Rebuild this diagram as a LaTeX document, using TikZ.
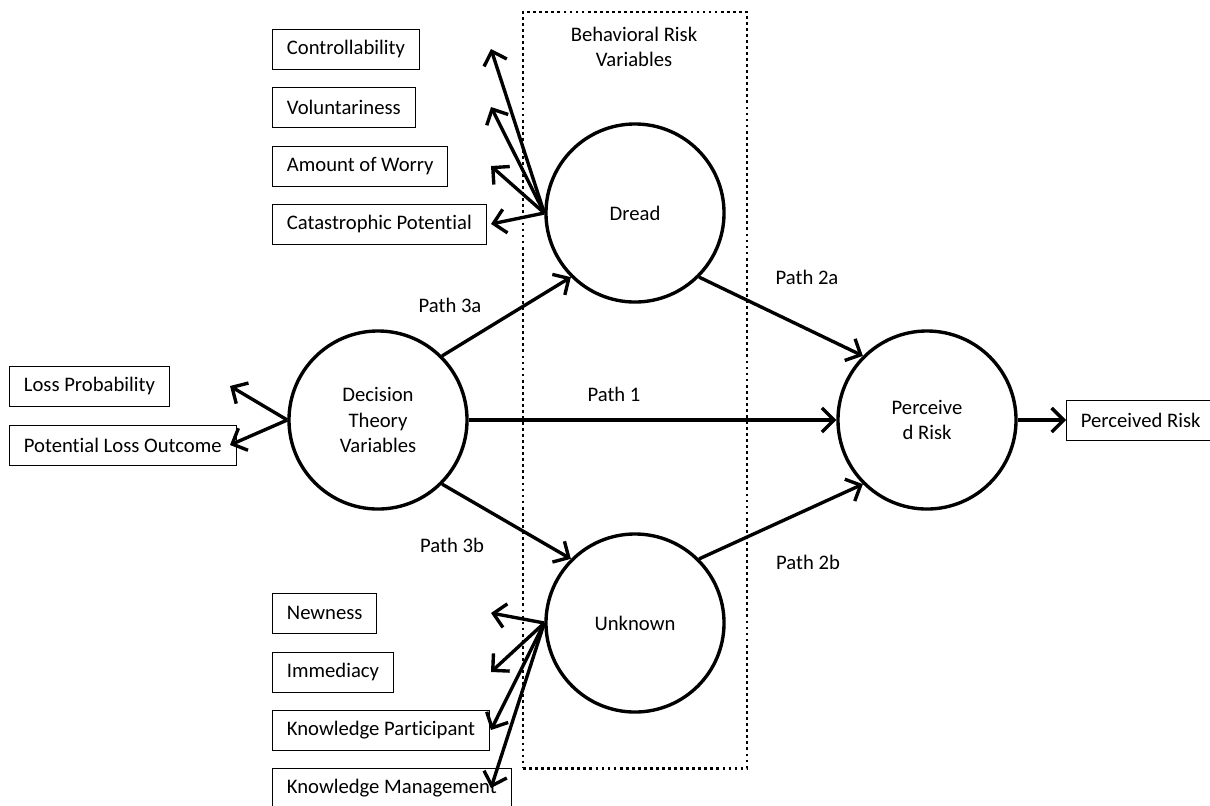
\documentclass[tikz,border=0pt]{standalone}
\usepackage{fontspec}
\setmainfont{Carlito}[Ligatures=CommonOff]
\usetikzlibrary{shapes,arrows.meta,positioning,calc}

\begin{document}
\begin{tikzpicture}[x=0.025cm, y=-0.025cm, font=\fontsize{14.7}{18}\selectfont,
		>={Straight Barb[length=3mm, width=6mm]},
		var/.style={circle, draw, line width=2.4pt, minimum size=4.45cm, align=center},
		item/.style={rectangle, draw, line width=0.7pt, minimum height=1cm, inner xsep=0.36cm, anchor=west},
		link/.style={->, line width=2.4pt}]
				\useasboundingbox (0,0) rectangle (1210,805);
				% Group
				\node[draw, line width=2pt, dash pattern=on 2pt off 2.3pt, minimum width=5.6cm, minimum height=18.9cm] (brv) at (635,390) {};
				\node[align=center] (brvlab) at (634,47) {Behavioral Risk\\Variables};
				
				% Circles
				\node[var] (dec) at (378,420) {Decision\\Theory\\Variables};
				\node[var] (dread) at (635,213) {Dread};
				\node[var] (unk) at (635,623) {Unknown};
				\node[var] (per) at (927,420) {Perceive\\d Risk};
				
				% Boxes
				\node[item] (ctrl) at (272,49) {Controllability};
				\node[item] (vol) at (272,107) {Voluntariness};
				\node[item] (worry) at (272,166) {Amount of Worry};
				\node[item] (cat) at (272,224) {Catastrophic Potential};
				\node[item] (loss) at (9,386) {Loss Probability};
				\node[item] (outc) at (9,445) {Potential Loss Outcome};
				\node[item] (new) at (272,613) {Newness};
				\node[item] (imm) at (272,672) {Immediacy};
				\node[item] (kpart) at (272,730) {Knowledge Participant};
				\node[item] (kman) at (272,788) {Knowledge Management};
				\node[item] (prbox) at (1066,420) {Perceived Risk};
				
				% Indicators
				\coordinate (tipr) at (491,0);
				\coordinate (tipl) at (230,0);
				\foreach \b in {ctrl,vol,worry,cat}
					\draw[link] (dread.west) -- (tipr |- \b);
				\foreach \b in {new,imm,kpart,kman}
					\draw[link] (unk.west) -- (tipr |- \b);
				\foreach \b in {loss,outc}
					\draw[link] (dec.west) -- (tipl |- \b);
				\draw[link] (per.east) -- (prbox.west);
				
				% Paths
				\draw[link] (dec.north east) -- (dread.south west);
				\draw[link] (dec.east) -- (per.west);
				\draw[link] (dec.south east) -- (unk.north west);
				\draw[link] (dread.south east) -- (per.north west);
				\draw[link] (unk.north east) -- (per.south west);
				\node (p3a) at (450,305) {Path 3a};
				\node (p1) at (614,394) {Path 1};
				\node (p3b) at (452,545) {Path 3b};
				\node (p2a) at (807,277) {Path 2a};
				\node (p2b) at (808,562) {Path 2b};
			\end{tikzpicture}
\end{document}
